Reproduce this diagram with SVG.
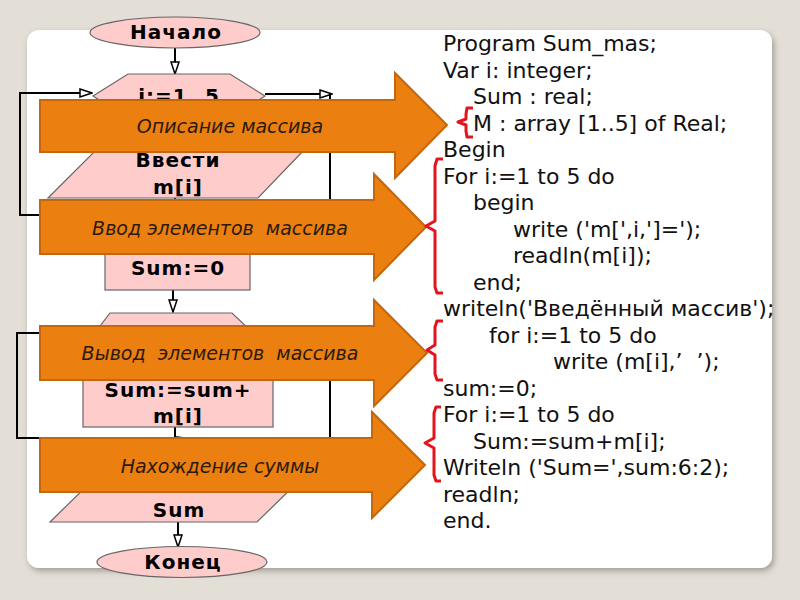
<svg xmlns="http://www.w3.org/2000/svg" width="800" height="600" viewBox="0 0 800 600">
<defs>
<style>
.fc{fill:#FFCCCC;stroke:#666;stroke-width:1.2}
.ft{font-family:"DejaVu Sans",Verdana,sans-serif;font-weight:bold;font-size:20px;letter-spacing:1px;fill:#000;text-anchor:middle}
.con{fill:none;stroke:#000;stroke-width:2}
.oa{fill:#EB7F10;stroke:#C4660C;stroke-width:2}
.ot{font-family:"DejaVu Sans",Verdana,sans-serif;font-style:italic;font-size:19px;fill:#2B1B0F;text-anchor:middle;white-space:pre}
.code{font-family:"DejaVu Sans",Verdana,sans-serif;font-size:22px;fill:#111;white-space:pre}
.br{fill:none;stroke:#E3141C;stroke-width:3;stroke-linejoin:round}
</style>
<marker id="ah" markerUnits="userSpaceOnUse" viewBox="0 0 14 10" refX="13" refY="5" markerWidth="14" markerHeight="10" orient="auto">
<path d="M1,1 L13,5 L1,9 z" fill="#fff" stroke="#000" stroke-width="1.5"/>
</marker>
<filter id="sh" x="-5%" y="-5%" width="110%" height="110%">
<feDropShadow dx="2" dy="3" stdDeviation="3" flood-color="#000" flood-opacity="0.3"/>
</filter>
</defs>
<rect width="800" height="600" fill="#E4DFD6"/>
<rect x="27" y="30" width="745" height="538" rx="12" fill="#fff" filter="url(#sh)"/>

<g id="connectors">
<line class="con" x1="175" y1="48" x2="175" y2="74" marker-end="url(#ah)"/>
<polyline class="con" points="60,215 20,215 20,93 92,93" marker-end="url(#ah)"/>
<line class="con" x1="265" y1="94" x2="332" y2="94" marker-end="url(#ah)"/>
<polyline class="con" points="330,94 330,226 250,226"/>
<line class="con" x1="175" y1="198" x2="175" y2="238"/>
<line class="con" x1="173" y1="290" x2="173" y2="312" marker-end="url(#ah)"/>
<polyline class="con" points="60,438 17,438 17,333 98,333" marker-end="url(#ah)"/>
<polyline class="con" points="250,335 330,335 330,440"/>
<polyline class="con" points="175,427 175,437 183,438"/>
<line class="con" x1="175" y1="437" x2="175" y2="476"/>
<line class="con" x1="178" y1="522" x2="178" y2="547" marker-end="url(#ah)"/>
</g>

<g id="start">
<ellipse class="fc" cx="175" cy="32.5" rx="85" ry="15.5"/>
<text class="ft" x="176" y="39">Начало</text>
</g>
<g id="loop1">
<polygon class="fc" points="128,74 230,74 265,96 230,118 128,118 93,96"/>
<text class="ft" x="179" y="103">i:=1..5</text>
</g>
<g id="input">
<polygon class="fc" points="96,150 304,150 258,198 48,198"/>
<text class="ft" x="178" y="167">Ввести</text>
<text class="ft" x="178" y="194">m[i]</text>
</g>
<g id="sum0">
<rect class="fc" x="105" y="240" width="145" height="50"/>
<text class="ft" x="178" y="275">Sum:=0</text>
</g>
<g id="loop2">
<polygon class="fc" points="110,313 232,313 250,330 232,350 110,350 97,330"/>
</g>
<g id="sumadd">
<rect class="fc" x="83" y="372" width="190" height="55"/>
<text class="ft" x="178" y="397">Sum:=sum+</text>
<text class="ft" x="178" y="423">m[i]</text>
</g>
<g id="output">
<polygon class="fc" points="97,476 304,476 257,522 50,522"/>
<text class="ft" x="179" y="517">Sum</text>
</g>
<g id="end">
<ellipse class="fc" cx="182" cy="562" rx="85" ry="15.5"/>
<text class="ft" x="183" y="569">Конец</text>
</g>

<g id="arrow1">
<polygon class="oa" points="40,100 395,100 395,73 447,125 395,178 395,152 40,152"/>
<text class="ot" x="230" y="133">Описание массива</text>
</g>
<g id="arrow2">
<polygon class="oa" points="40,200 374,200 374,174 426,227 374,280 374,254 40,254"/>
<text class="ot" x="220" y="235">Ввод элементов  массива</text>
</g>
<g id="arrow3">
<polygon class="oa" points="40,326 374,326 374,300 427,353 374,406 374,380 40,380"/>
<text class="ot" x="220" y="360">Вывод  элементов  массива</text>
</g>
<g id="arrow4">
<polygon class="oa" points="40,438 372,438 372,412 425,465 372,518 372,492 40,492"/>
<text class="ot" x="220" y="473">Нахождение суммы</text>
</g>

<g id="brackets">
<path class="br" d="M473,108 L467,108 L466,114 L466,119 L458,122 L466,125 L466,131 L467,137 L473,137"/>
<path class="br" d="M443,159 L437,159 L435,166 L435,221 L426,226 L435,231 L435,287 L437,293 L443,293"/>
<path class="br" d="M443,321 L437,321 L435,327 L435,345 L427,350 L435,355 L435,374 L437,380 L443,380"/>
<path class="br" d="M441,407 L436,407 L434,413 L434,438 L425,443 L434,448 L434,475 L436,481 L441,481"/>
</g>

<g id="code">
<text class="code" x="443" y="51">Program Sum_mas;</text>
<text class="code" x="443" y="77.5">Var i: integer;</text>
<text class="code" x="473" y="104">Sum : real;</text>
<text class="code" x="473" y="130.5">M : array [1..5] of Real;</text>
<text class="code" x="443" y="157">Begin</text>
<text class="code" x="443" y="183.5">For i:=1 to 5 do</text>
<text class="code" x="473" y="210">begin</text>
<text class="code" x="513" y="236.5">write ('m[',i,']=');</text>
<text class="code" x="513" y="263">readln(m[i]);</text>
<text class="code" x="473" y="289.5">end;</text>
<text class="code" x="443" y="316">writeln('Введённый массив');</text>
<text class="code" x="489" y="342.5">for i:=1 to 5 do</text>
<text class="code" x="553" y="369">write (m[i],’  ’);</text>
<text class="code" x="443" y="395.5">sum:=0;</text>
<text class="code" x="443" y="422">For i:=1 to 5 do</text>
<text class="code" x="473" y="448.5">Sum:=sum+m[i];</text>
<text class="code" x="443" y="475">Writeln ('Sum=',sum:6:2);</text>
<text class="code" x="443" y="501.5">readln;</text>
<text class="code" x="443" y="528">end.</text>
</g>
</svg>
